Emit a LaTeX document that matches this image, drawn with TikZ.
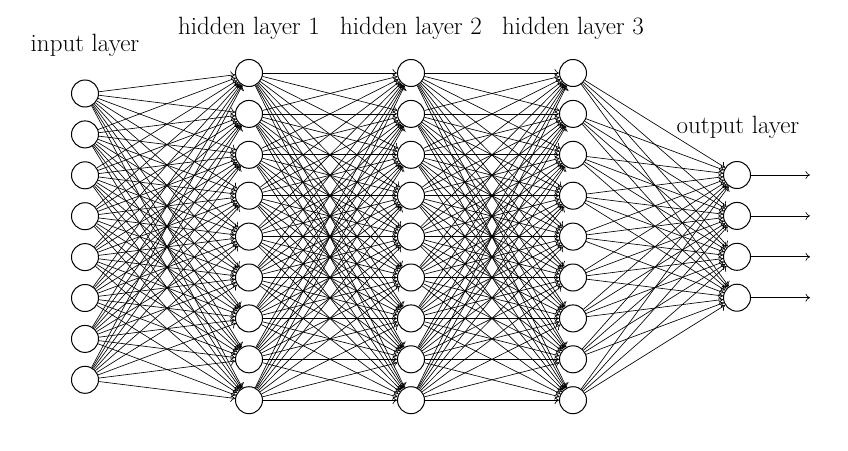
\documentclass[tikz,border=0pt]{standalone}
\usetikzlibrary{arrows.meta}
\begin{document}
\begin{tikzpicture}[x=1pt,y=-1pt,
  neuron/.style={circle,draw,line width=1pt,fill=white,minimum size=27pt,inner sep=0pt},
  conn/.style={-{To[length=4.5pt,width=8pt]},line width=0.65pt},
  lbl/.style={font=\fontsize{25}{30}\selectfont,inner sep=0pt}]
\useasboundingbox (0,0) rectangle (848,450);
% nodes
\foreach \i in {1,...,8}
  \node[neuron] (I-\i) at (85,{93.5+40.9*(\i-1)}) {};
\foreach \i in {1,...,9} {
  \node[neuron] (A-\i) at (249,{73+40.9*(\i-1)}) {};
  \node[neuron] (B-\i) at (411,{73+40.9*(\i-1)}) {};
  \node[neuron] (C-\i) at (573,{73+40.9*(\i-1)}) {};
}
\foreach \i in {1,...,4} {
  \node[neuron] (O-\i) at (737,{175+40.9*(\i-1)}) {};
  \coordinate (E-\i) at (810,{175+40.9*(\i-1)});
}
% connections
\foreach \i in {1,...,8}
  \foreach \j in {1,...,9}
    \draw[conn] (I-\i) -- (A-\j);
\foreach \i in {1,...,9}
  \foreach \j in {1,...,9} {
    \draw[conn] (A-\i) -- (B-\j);
    \draw[conn] (B-\i) -- (C-\j);
  }
\foreach \i in {1,...,9}
  \foreach \j in {1,...,4}
    \draw[conn] (C-\i) -- (O-\j);
\foreach \i in {1,...,4}
  \draw[conn] (O-\i) -- (E-\i);
% labels
\node[lbl] (lin) at (85,45) {input layer};
\node[lbl] (lh1) at (249,28) {hidden layer 1};
\node[lbl] (lh2) at (411,28) {hidden layer 2};
\node[lbl] (lh3) at (573,28) {hidden layer 3};
\node[lbl] (lout) at (738,127) {output layer};
\end{tikzpicture}
\end{document}
